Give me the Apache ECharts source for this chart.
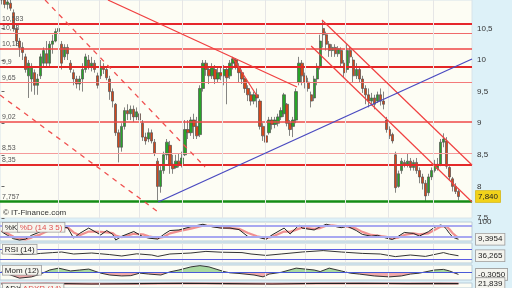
<!DOCTYPE html>
<html><head><meta charset="utf-8">
<script src="https://cdn.jsdelivr.net/npm/echarts@6/dist/echarts.min.js"></script>
<style>html,body{margin:0;padding:0;background:#ddf1f8}#c{width:512px;height:288px}</style>
</head><body><div id="c"></div><script>
// ---------- DATA ----------
const opens  = [11.05,10.95,10.88,10.90,10.75,10.50,10.30,10.20,10.05,9.75,9.70,9.80,9.60,9.75,9.95,10.10,9.95,10.25,10.30,10.45,
10.25,10.05,10.20,9.95,9.80,9.70,9.62,9.70,9.85,10.00,9.90,9.95,9.75,9.75,9.90,9.85,9.70,9.50,9.30,8.85,
8.62,8.95,9.20,9.15,9.22,9.10,9.15,9.00,8.78,8.75,8.85,8.70,8.40,8.00,8.25,8.50,8.65,8.35,8.30,8.40,
8.35,8.50,8.90,8.85,9.05,8.95,8.82,9.55,9.95,9.85,9.75,9.85,9.70,9.80,9.75,9.85,9.75,9.95,10.00,9.90,
9.80,9.70,9.55,9.45,9.35,9.45,9.35,8.95,8.80,8.85,9.05,8.98,9.00,9.10,9.15,9.30,9.00,8.95,9.05,9.65,
9.95,9.75,9.65,9.45,9.40,9.70,9.90,10.50,10.40,10.25,10.15,10.20,10.10,10.15,9.95,9.85,10.15,10.00,9.75,9.85,
9.70,9.55,9.45,9.35,9.40,9.35,9.45,9.35,9.05,8.90,8.82,8.50,8.00,8.25,8.38,8.35,8.40,8.30,8.38,8.25,
8.15,8.05,7.90,8.15,8.25,8.28,8.35,8.70,8.72,8.30,8.12,8.00,7.92];
const closes = [10.95,10.88,10.92,10.82,10.50,10.30,10.20,10.12,9.85,9.95,9.90,9.60,9.70,10.05,10.15,9.95,10.25,10.30,10.45,10.50,
9.95,10.20,10.10,9.85,9.70,9.62,9.70,9.85,10.05,9.90,9.95,9.85,9.60,9.90,9.85,9.72,9.50,9.35,8.85,8.62,
8.95,9.20,9.15,9.22,9.10,9.18,9.05,8.78,8.72,8.85,8.72,8.52,8.00,8.25,8.50,8.70,8.35,8.28,8.40,8.35,
8.45,8.90,8.85,9.05,8.95,8.80,9.55,9.95,9.85,9.75,9.88,9.70,9.80,9.75,9.85,9.72,9.95,10.02,9.90,9.80,
9.70,9.55,9.45,9.35,9.45,9.40,8.95,8.80,8.70,9.05,8.98,9.05,9.10,9.20,9.45,9.00,8.90,9.05,9.50,9.95,
9.75,9.65,9.55,9.35,9.70,9.90,10.30,10.40,10.25,10.15,10.20,10.10,10.18,9.95,9.80,10.15,10.05,9.75,9.85,9.70,
9.55,9.45,9.35,9.40,9.30,9.45,9.35,9.30,8.90,8.80,8.72,7.98,8.20,8.40,8.35,8.40,8.30,8.38,8.25,8.15,
8.05,7.85,8.15,8.25,8.35,8.35,8.70,8.75,8.32,8.15,8.00,7.92,7.84];
const lows   = [10.88,10.82,10.80,10.78,10.45,10.22,10.05,10.00,9.80,9.40,9.50,9.45,9.45,9.70,9.90,9.90,9.90,10.10,10.28,10.35,
9.85,10.00,10.00,9.80,9.60,9.55,9.52,9.50,9.80,9.85,9.82,9.80,9.55,9.70,9.78,9.68,9.37,9.25,8.80,8.38,
8.55,8.90,9.05,9.05,9.02,9.05,9.00,8.72,8.66,8.70,8.68,8.48,7.78,7.90,8.20,8.42,8.20,8.20,8.28,8.30,
8.30,8.48,8.75,8.80,8.75,8.75,8.78,9.50,9.75,9.62,9.70,9.62,9.65,9.68,9.60,9.30,9.70,9.85,9.85,9.65,
9.62,9.48,9.35,9.28,9.30,9.25,8.90,8.72,8.58,8.82,8.90,8.92,8.95,9.05,9.10,8.95,8.80,8.78,9.00,9.60,
9.60,9.55,9.50,9.25,9.35,9.60,9.85,10.20,10.15,10.05,10.05,10.05,10.05,9.90,9.72,9.80,9.95,9.65,9.70,9.65,
9.48,9.30,9.25,9.28,9.22,9.32,9.28,9.22,8.85,8.75,8.68,7.90,7.98,8.20,8.30,8.30,8.25,8.25,8.20,8.05,
7.95,7.76,7.85,8.10,8.22,8.25,8.32,8.62,8.28,8.10,7.92,7.88,7.78];
const highs  = [11.15,11.00,10.98,10.95,10.80,10.55,10.35,10.28,10.10,10.00,9.95,9.85,9.78,10.10,10.20,10.30,10.30,10.40,10.50,10.55,
10.30,10.25,10.25,10.00,9.85,9.75,9.75,9.95,10.10,10.08,10.05,10.00,9.80,10.00,9.95,9.90,9.75,9.55,9.32,8.90,
9.00,9.25,9.30,9.28,9.28,9.25,9.20,9.05,8.85,8.92,8.90,8.75,8.45,8.32,8.55,8.75,8.72,8.50,8.50,8.52,
8.55,9.05,9.05,9.10,9.15,9.10,9.60,10.00,10.00,9.90,9.95,9.92,9.90,9.90,9.92,9.90,10.00,10.05,10.03,9.95,
9.85,9.72,9.60,9.50,9.50,9.55,9.38,9.00,8.85,9.10,9.10,9.10,9.15,9.25,9.48,9.32,9.05,9.10,9.55,10.05,
10.00,9.80,9.72,9.50,9.75,9.95,10.40,10.62,10.45,10.30,10.25,10.25,10.22,10.20,10.00,10.25,10.22,10.05,9.95,9.90,
9.75,9.60,9.55,9.48,9.45,9.50,9.55,9.50,9.10,8.95,8.85,8.55,8.25,8.45,8.42,8.52,8.45,8.42,8.45,8.30,
8.20,8.10,8.20,8.30,8.42,8.45,8.75,8.84,8.78,8.32,8.15,8.05,7.95];
const slotCount = 157;                       // candle slots on the time axis (incl. empty right margin)
const priceRange = [7.5, 10.95];
const lastPrice = 7.84;
const lastPriceLabel = '7,840';

const levelValues = [10.583,10.43,10.18,9.9,9.65,9.02,8.53,8.35,7.757];
const levelLabels = ['10,583','10,43','10,18','9,9','9,65','9,02','8,53','8,35','7,757'];

// trend lines: [slot index, price]
const solidLines = [
  [[35.4,10.95],[98.3,9.573]],
  [[76.7,10.048],[85.0,9.43]],
  [[106.6,10.633],[156.5,8.339]],
  [[103.0,10.222],[156.5,7.753]]
];
const blueLine = [[52.1,7.753],[156.5,10.016]];
const dashedLines = [
  [[14.5,10.95],[67.7,8.307]],
  [[-0.5,9.447],[52.1,7.595]]
];
const monthLines = [18.8,32.4,45.7,60.0,73.3,87.7,101.0,114.3,128.6,143.5];

const stochK = [[0,49],[2,30],[4,12],[6,5],[8,10],[10,30],[13,49],[15,60],[17,70],[19,75],[22,70],[24,15],[26,40],[29,68],[33,32],[35,55],[37,35],[38,5],[40,25],[44,50],[47,23],[49,15],[52,10],[54,35],[56,55],[59,58],[63,75],[67,88],[70,75],[73,68],[76,68],[79,60],[82,23],[85,21],[88,9],[90,32],[94,68],[96,37],[99,84],[100,68],[104,58],[106,75],[108,88],[110,80],[113,70],[115,78],[118,55],[120,35],[123,25],[125,30],[128,15],[130,8],[132,25],[134,45],[137,40],[139,26],[142,49],[144,72],[146,84],[147,80],[148,62],[149,40],[150,22],[151,14],[152,9.3954]];
const stochD = [[0,55],[2,40],[4,22],[6,12],[8,8],[10,18],[13,35],[15,50],[17,62],[19,70],[22,72],[24,45],[26,30],[29,50],[33,48],[35,45],[37,42],[38,28],[40,20],[44,38],[47,35],[49,25],[52,15],[54,22],[56,40],[59,52],[63,65],[67,80],[70,80],[73,72],[76,68],[79,64],[82,42],[85,25],[88,15],[90,22],[94,50],[96,48],[99,65],[100,70],[104,64],[106,68],[108,80],[110,82],[113,76],[115,75],[118,65],[120,48],[123,32],[125,28],[128,22],[130,14],[132,18],[134,32],[137,40],[139,35],[142,40],[144,58],[146,75],[148,78],[149,62],[150,42],[151,28],[152,18]];
const stochLevels = [80, 20];
const stochLabel = '9,3954';

const rsi = [[0,50],[3,46],[6,42],[10,44],[13,48],[17,52],[20,55],[24,45],[30,50],[36,42],[40,35],[45,46],[50,40],[52,33],[56,45],[63,50],[68,58],[73,54],[80,52],[83,45],[88,38],[93,45],[100,55],[107,62],[113,55],[120,48],[126,45],[131,32],[136,40],[141,33],[147,52],[149,44],[152,36.265]];
const rsiLevels = [70, 20];
const rsiLabel = '36,265';

const mom = [[0,0.1],[3,-0.4],[6,-0.9],[10,-0.7],[13,-0.25],[16,0.4],[19,0.7],[23,0.25],[26,0.4],[29,0.55],[33,-0.1],[36,-0.4],[40,-0.55],[43,-0.5],[46,-0.1],[49,-0.25],[53,-0.4],[56,0.1],[59,0.4],[63,0.9],[66,1.1],[69,0.9],[74,0.15],[76,-0.05],[79,-0.15],[84,-0.4],[87,-0.7],[89,-0.25],[93,0.03],[98,0.7],[104,0.4],[106,0.15],[109,0.7],[113,0.25],[116,-0.1],[119,-0.25],[124,-0.55],[129,-0.7],[133,-0.55],[136,-0.25],[139,-0.1],[144,0.4],[147,0.5],[149,0.25],[152,-0.305]];
const momLabel = '-0,3050';

const adx  = [[0,21],[15,23],[30,20],[45,22],[60,24],[75,22],[90,20],[105,23],[120,24],[135,22],[145,23],[152,21.839]];
const adxr = [[0,22],[15,22],[30,21],[45,21],[60,23],[75,23],[90,21],[105,22],[120,23],[135,23],[145,22],[152,22]];
const adxLabel = '21,839';

// ---------- CHART ----------
const categories = Array.from({length: slotCount}, (_, i) => String(i + 1));
const candles = opens.map((o, i) => [o, closes[i], lows[i], highs[i]]);
const comma = v => String(v).replace('.', ',');
const FONT = 'Liberation Sans';
const CLEAR = 'rgba(0,0,0,0)';

const levelStyles = [
  {color:'#e6262b', width:2}, {color:'#f06a6a', width:1.2}, {color:'#ee4444', width:1.5},
  {color:'#e32626', width:2}, {color:'#f47a7a', width:1.2}, {color:'#ee4848', width:1.5},
  {color:'#f59a9a', width:1.2}, {color:'#e42a2a', width:2}, {color:'#148c14', width:2.5}
];

const W0 = [-0.5, slotCount - 0.5];
const grids = [
  {left:0, right:40, top:0, height:218},
  {left:0, right:40, top:222, height:19},
  {left:0, right:40, top:243, height:20},
  {left:0, right:40, top:265, height:15},
  {left:0, right:40, top:283, height:20}
].map((g, i) => Object.assign(g, {show:true, backgroundColor:'#fdfdf4',
   borderColor: i === 0 ? '#d8e4ea' : '#b9ccd8', borderWidth:1}));

// xAxis 0: categories (grid 0); xAxis 1..5: value axes for grids 0..4
const valueX = gi => ({type:'value', gridIndex:gi, min:W0[0], max:W0[1], show:false});
const endLabel = (txt, bg) => ({show:true, position:'end', distance:4, formatter: txt,
   fontFamily:FONT, fontSize:8, color:'#222', backgroundColor:bg, borderColor: bg === '#f2d21a' ? '#d8b400' : '#9a9a9a',
   borderWidth:0.8, padding:[2,2,1,2]});
const vgrid = gi => ({type:'line', xAxisIndex: gi+1, yAxisIndex: gi, data: [], z:0, silent:true,
   markLine:{silent:true, symbol:'none', label:{show:false},
     lineStyle:{color:'#e6e6e6', width:1, type:'solid'}, data: monthLines.map(x => ({xAxis:x}))}});

const series = [];
for (let g = 0; g < 5; g++) series.push(vgrid(g));

series.push({
  type:'candlestick', xAxisIndex:0, yAxisIndex:0, data:candles, barWidth:2.8, z:3,
  itemStyle:{color:'#28a428', color0:'#d4461a', borderColor:'#505050', borderColor0:'#505050', borderWidth:0.7},
  markLine:{silent:true, symbol:'none', z:4,
    data: levelValues.map((v, i) => ({yAxis:v, lineStyle:Object.assign({type:'solid'}, levelStyles[i]),
       label:{show:true, position:'insideStartTop', distance:[2,1], formatter: levelLabels[i],
              fontFamily:FONT, fontSize:7, color:'#555'}}))
      .concat([{yAxis:lastPrice, lineStyle:{color:CLEAR, width:1}, label:endLabel(lastPriceLabel, '#f2d21a')}])
  }
});
solidLines.forEach(seg => series.push({type:'line', xAxisIndex:1, yAxisIndex:0, data:seg, symbol:'none',
   silent:true, z:5, lineStyle:{color:'#f04040', width:1.2}}));
series.push({type:'line', xAxisIndex:1, yAxisIndex:0, data:blueLine, symbol:'none', silent:true, z:5,
   lineStyle:{color:'#4a4ac0', width:1.3}});
dashedLines.forEach(seg => series.push({type:'line', xAxisIndex:1, yAxisIndex:0, data:seg, symbol:'none',
   silent:true, z:5, lineStyle:{color:'#f05050', width:1.3, type:[5,5]}}));

// stochastic
series.push({type:'line', xAxisIndex:2, yAxisIndex:1, data:stochD, symbol:'none', z:3,
  lineStyle:{color:'#f09090', width:2.2},
  markLine:{silent:true, symbol:'none', label:{show:false}, lineStyle:{color:'#a8a8f0', width:2, type:'solid'},
    data: stochLevels.map(v => ({yAxis:v}))}});
series.push({type:'line', xAxisIndex:2, yAxisIndex:1, data:stochK, symbol:'none', z:4,
  lineStyle:{color:'#222', width:1},
  markLine:{silent:true, symbol:'none', lineStyle:{color:CLEAR}, data:[{yAxis:stochK[stochK.length-1][1], label:endLabel(stochLabel, '#f4f4ee')}]}});
// rsi
series.push({type:'line', xAxisIndex:3, yAxisIndex:2, data:rsi, symbol:'none', z:4,
  lineStyle:{color:'#333', width:1},
  markLine:{silent:true, symbol:'none', label:{show:false}, lineStyle:{color:'#5a5ae0', width:1.2, type:'solid'},
    data: rsiLevels.map(v => ({yAxis:v})).concat([{yAxis:rsi[rsi.length-1][1], lineStyle:{color:CLEAR}, label:endLabel(rsiLabel, '#f4f4ee')}])}});
// momentum
series.push({type:'line', xAxisIndex:4, yAxisIndex:3, data:mom, symbol:'none', z:4,
  lineStyle:{color:'#333', width:1},
  areaStyle:{color: new echarts.graphic.LinearGradient(0, 265, 0, 280, [
      {offset:0, color:'#a9d9a0'}, {offset:0.5, color:'#a9d9a0'}, {offset:0.5, color:'#f2aaaa'}, {offset:1, color:'#f2aaaa'}], true), opacity:1},
  markLine:{silent:true, symbol:'none', label:{show:false}, lineStyle:{color:'#4a5ad8', width:1.2, type:'solid'},
    data:[{yAxis:0}, {yAxis:mom[mom.length-1][1], lineStyle:{color:CLEAR}, label:endLabel(momLabel, '#f4f4ee')}]}});
// adx
series.push({type:'line', xAxisIndex:5, yAxisIndex:4, data:adxr, symbol:'none', z:3, lineStyle:{color:'#f09090', width:2}});
series.push({type:'line', xAxisIndex:5, yAxisIndex:4, data:adx, symbol:'none', z:4, lineStyle:{color:'#222', width:1.2},
  markLine:{silent:true, symbol:'none', lineStyle:{color:CLEAR}, data:[{yAxis:adx[adx.length-1][1], label:endLabel(adxLabel, '#f4f4ee')}]}});

const chart = echarts.init(document.getElementById('c'), null, {renderer:'canvas'});
const panelY = gi => ({type:'value', gridIndex:gi, position:'right', min:0, max:100, interval:100, splitLine:{show:false},
     axisLine:{show:false}, axisTick:{show:false},
     axisLabel:{show:true, fontFamily:FONT, fontSize:8, color:'#333', margin:6, showMinLabel:false, showMaxLabel:true}});

chart.setOption({
  animation:false,
  backgroundColor:'#ddf1f8',
  grid: grids,
  xAxis: [
    {type:'category', gridIndex:0, data:categories, boundaryGap:true, show:false},
    valueX(0), valueX(1), valueX(2), valueX(3), valueX(4)
  ],
  yAxis: [
    {type:'value', gridIndex:0, position:'right', min:priceRange[0], max:priceRange[1], interval:0.5,
     splitLine:{show:false}, axisLine:{show:false},
     axisTick:{show:true, length:3, lineStyle:{color:'#666'}},
     axisLabel:{show:true, fontFamily:FONT, fontSize:8, color:'#333', margin:5, showMaxLabel:false, showMinLabel:true,
       formatter: v => comma(v)}},
    panelY(1), panelY(2),
    {type:'value', gridIndex:3, position:'right', min:-1.2, max:1.2, show:false},
    {type:'value', gridIndex:4, position:'right', min:0, max:25, show:false}
  ],
  graphic: [
    {type:'text', left:3, top:209, z:10, style:{text:'© IT-Finance.com', fill:'#333', font:'8px "Liberation Sans"'}},
    {type:'text', left:2, top:222, z:10, style:{text:'%K', fill:'#222', font:'8px "Liberation Sans"', backgroundColor:'#f6f6ef', borderColor:'#9a9a9a', borderWidth:0.8, padding:[1,2,0,2]}},
    {type:'text', left:17, top:222, z:10, style:{text:'%D (14 3 5)', fill:'#e05050', font:'8px "Liberation Sans"', backgroundColor:'#f6f6ef', borderColor:'#9a9a9a', borderWidth:0.8, padding:[1,2,0,2]}},
    {type:'text', left:2, top:244, z:10, style:{text:'RSI (14)', fill:'#222', font:'8px "Liberation Sans"', backgroundColor:'#f6f6ef', borderColor:'#9a9a9a', borderWidth:0.8, padding:[1,2,0,2]}},
    {type:'text', left:2, top:265, z:10, style:{text:'Mom (12)', fill:'#222', font:'8px "Liberation Sans"', backgroundColor:'#f6f6ef', borderColor:'#9a9a9a', borderWidth:0.8, padding:[1,2,0,2]}},
    {type:'text', left:2, top:283, z:10, style:{text:'ADX', fill:'#222', font:'8px "Liberation Sans"', backgroundColor:'#f6f6ef', borderColor:'#9a9a9a', borderWidth:0.8, padding:[1,2,0,2]}},
    {type:'text', left:20, top:283, z:10, style:{text:'ADXR (14)', fill:'#e05050', font:'8px "Liberation Sans"', backgroundColor:'#f6f6ef', borderColor:'#9a9a9a', borderWidth:0.8, padding:[1,2,0,2]}}
  ],
  series: series
});
</script></body></html>
